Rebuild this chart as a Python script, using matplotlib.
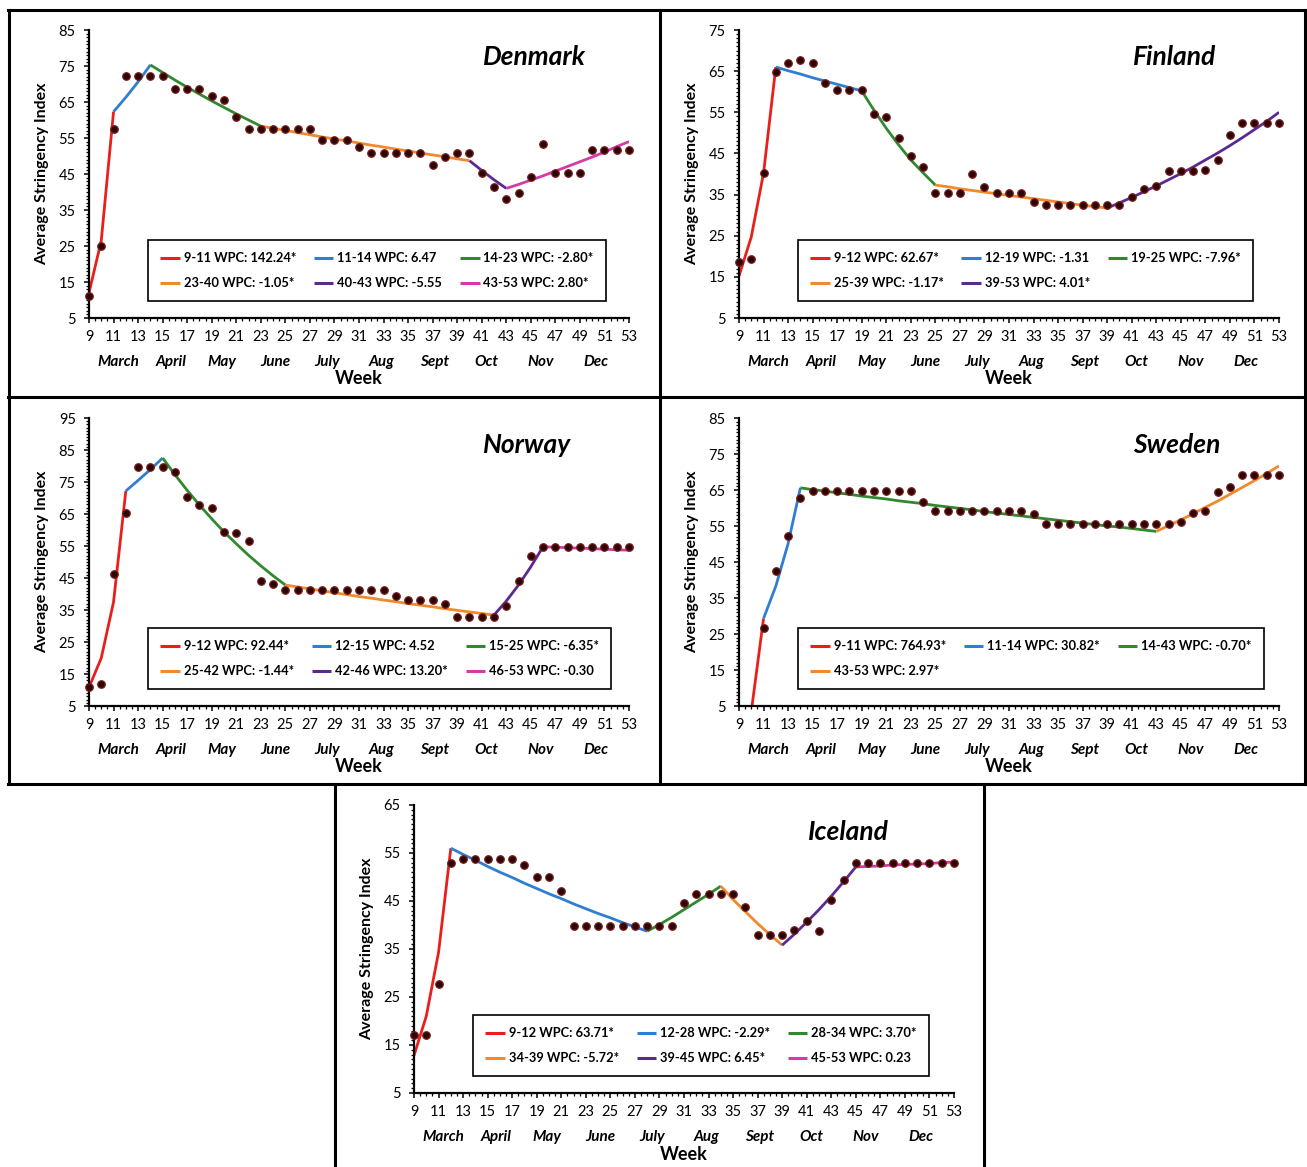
import matplotlib.pyplot as plt
import numpy as np
from matplotlib.lines import Line2D
from matplotlib.ticker import FixedLocator, MultipleLocator

W, H = 1307, 1167

weeks = list(range(9, 54))
month_names = ["March", "April", "May", "June", "July", "Aug", "Sept", "Oct", "Nov", "Dec"]
month_pos = [11.4, 15.7, 19.8, 24.2, 28.4, 32.8, 37.2, 41.4, 45.8, 50.3]

seg_colors = ["#e8201c", "#2f7fd0", "#2f8a2f", "#f08a2c", "#5b2a90", "#d63aa8"]

# Denmark
dk_obs = [11.0, 25.1, 57.4, 72.3, 72.3, 72.3, 72.3, 68.6, 68.6, 68.6, 66.7, 65.6, 60.8, 57.4, 57.4,
          57.4, 57.4, 57.4, 57.4, 54.5, 54.5, 54.5, 52.4, 50.8, 50.8, 50.8, 50.8, 50.8, 47.5, 49.7,
          50.8, 50.8, 45.4, 41.5, 38.0, 39.7, 44.1, 53.3, 45.2, 45.4, 45.4, 51.7, 51.7, 51.7, 51.7]
dk_fit = [12.0, 26.5, 62.3, 66.3, 70.6, 75.3, 73.2, 71.1, 69.1, 67.2, 65.3, 63.5, 61.7, 60.0, 58.3,
          57.7, 57.1, 56.5, 55.9, 55.3, 54.7, 54.2, 53.6, 53.0, 52.5, 51.9, 51.4, 50.8, 50.3, 49.8,
          49.2, 48.7, 46.0, 43.4, 41.0, 42.1, 43.3, 44.5, 45.8, 47.1, 48.4, 49.7, 51.1, 52.6, 54.0]
dk_joins = [9, 11, 14, 23, 40, 43, 53]
dk_wpc = ["142.24*", "6.47", "-2.80*", "-1.05*", "-5.55", "2.80*"]

# Finland
fi_obs = [18.6, 19.4, 40.2, 64.7, 66.9, 67.6, 66.9, 62.1, 60.4, 60.4, 60.4, 54.5, 53.8, 48.7, 44.4,
          41.8, 35.4, 35.4, 35.4, 40.0, 36.8, 35.4, 35.4, 35.4, 33.1, 32.4, 32.4, 32.4, 32.4, 32.4,
          32.4, 32.4, 34.3, 36.3, 37.2, 40.8, 40.8, 40.8, 41.0, 43.3, 49.5, 52.3, 52.3, 52.3, 52.3]
fi_fit = [15.2, 24.7, 40.2, 66.0, 65.1, 64.3, 63.4, 62.6, 61.8, 61.0, 60.2, 55.5, 51.1, 47.1, 43.4,
          40.3, 37.3, 36.9, 36.4, 36.0, 35.6, 35.2, 34.8, 34.4, 34.0, 33.6, 33.2, 32.8, 32.4, 32.1,
          31.7, 33.0, 34.3, 35.7, 37.1, 38.6, 40.1, 41.7, 43.4, 45.1, 46.9, 48.8, 50.8, 52.8, 55.0]
fi_joins = [9, 12, 19, 25, 39, 53]
fi_wpc = ["62.67*", "-1.31", "-7.96*", "-1.17*", "4.01*"]

# Norway
no_obs = [11.0, 12.0, 46.3, 65.4, 79.7, 79.7, 79.7, 78.0, 70.4, 67.8, 66.8, 59.5, 59.0, 56.6, 44.1,
          43.1, 41.1, 41.1, 41.1, 41.1, 41.1, 41.1, 41.1, 41.1, 41.1, 39.3, 38.2, 38.2, 38.2, 37.0,
          32.7, 32.7, 32.7, 32.7, 36.1, 44.1, 52.0, 54.6, 54.6, 54.6, 54.6, 54.6, 54.6, 54.6, 54.6]
no_fit = [10.8, 20.0, 37.5, 72.2, 75.5, 78.9, 82.5, 77.3, 72.4, 67.8, 63.5, 59.4, 55.7, 52.1, 48.8,
          45.7, 42.8, 42.2, 41.6, 41.0, 40.4, 39.8, 39.2, 38.7, 38.1, 37.6, 37.0, 36.5, 36.0, 35.4,
          34.9, 34.4, 33.9, 33.4, 37.8, 42.8, 48.5, 54.8, 54.6, 54.5, 54.3, 54.2, 54.0, 53.8, 53.7]
no_joins = [9, 12, 15, 25, 42, 46, 53]
no_wpc = ["92.44*", "4.52", "-6.35*", "-1.44*", "13.20*", "-0.30"]

# Sweden (weeks 9-10 fall below the axis)
se_obs = [np.nan, np.nan, 26.7, 42.4, 52.3, 62.7, 64.7, 64.7, 64.7, 64.7, 64.7, 64.7, 64.7, 64.7, 64.7,
          61.8, 59.3, 59.3, 59.3, 59.3, 59.3, 59.3, 59.3, 59.3, 58.3, 55.5, 55.5, 55.5, 55.5, 55.5,
          55.5, 55.5, 55.5, 55.5, 55.5, 55.5, 56.0, 58.5, 59.3, 64.5, 65.9, 69.3, 69.3, 69.3, 69.3]
se_fit = [0.4, 3.4, 29.3, 38.3, 50.1, 65.6, 65.1, 64.7, 64.2, 63.8, 63.3, 62.9, 62.5, 62.0, 61.6,
          61.2, 60.7, 60.3, 59.9, 59.5, 59.0, 58.6, 58.2, 57.8, 57.4, 57.0, 56.6, 56.2, 55.8, 55.4,
          55.0, 54.7, 54.3, 53.9, 53.5, 55.1, 56.7, 58.4, 60.2, 61.9, 63.8, 65.7, 67.6, 69.6, 71.7]
se_joins = [9, 11, 14, 43, 53]
se_wpc = ["764.93*", "30.82*", "-0.70*", "2.97*"]

# Iceland
is_obs = [17.0, 17.0, 27.7, 52.9, 53.7, 53.7, 53.7, 53.7, 53.7, 52.6, 50.1, 50.1, 47.0, 39.8, 39.8,
          39.8, 39.8, 39.8, 39.8, 39.8, 39.8, 39.8, 44.6, 46.4, 46.4, 46.4, 46.4, 43.8, 37.9, 37.9,
          37.9, 38.9, 40.8, 38.8, 45.3, 49.4, 52.9, 52.9, 52.9, 52.9, 52.9, 52.9, 52.9, 52.9, 52.9]
is_fit = [12.8, 21.0, 34.3, 56.0, 54.7, 53.5, 52.2, 51.0, 49.9, 48.7, 47.6, 46.5, 45.5, 44.4, 43.4,
          42.4, 41.5, 40.5, 39.6, 38.7, 40.1, 41.6, 43.2, 44.8, 46.4, 48.1, 45.3, 42.8, 40.3, 38.0,
          35.8, 38.1, 40.6, 43.2, 46.0, 49.0, 52.1, 52.2, 52.3, 52.5, 52.6, 52.7, 52.8, 53.0, 53.1]
is_joins = [9, 12, 28, 34, 39, 45, 53]
is_wpc = ["63.71*", "-2.29*", "3.70*", "-5.72*", "6.45*", "0.23"]

plt.rcParams['font.family'] = ['Lato', 'DejaVu Sans']

fig = plt.figure(figsize=(W / 100, H / 100), dpi=100)


def fx(x):
    return x / W


def fy(y):
    return 1 - y / H


def draw_panel(ox, oy, name, obs, fit, joins, wpc, ymax):
    # axes rectangle in pixels relative to the panel corner
    ax = fig.add_axes([fx(ox + 79), fy(oy + 308), 540 / W, 288 / H])
    for i in range(len(joins) - 1):
        a, b = joins[i], joins[i + 1]
        ax.plot(weeks[a - 9:b - 8], fit[a - 9:b - 8], color=seg_colors[i], lw=2.0,
                solid_capstyle='butt', label=f"{a}-{b} WPC: {wpc[i]}", zorder=2)
    ax.plot(weeks, obs, ls='none', marker='o', ms=5.4, mfc='#2a0606', mec='#7a1a1a',
            mew=0.9, zorder=3, clip_on=False)
    ax.set_xlim(9, 53)
    ax.set_ylim(5, ymax)
    ax.spines['top'].set_visible(False)
    ax.spines['right'].set_visible(False)
    for s in ('left', 'bottom'):
        ax.spines[s].set_linewidth(1.6)
    ax.xaxis.set_major_locator(FixedLocator(range(9, 54, 2)))
    ax.xaxis.set_minor_locator(MultipleLocator(0.5))
    ax.yaxis.set_major_locator(FixedLocator(range(5, ymax + 1, 10)))
    ax.yaxis.set_minor_locator(MultipleLocator(1))
    ax.tick_params(which='major', length=3.5, width=1.1, labelsize=10.5, pad=5)
    ax.tick_params(which='minor', length=2.5, width=0.9)
    ax.tick_params(axis='y', pad=6)
    for m, p in zip(month_names, month_pos):
        ax.text(p, -44 / 288, m, transform=ax.get_xaxis_transform(), ha='center', va='center',
                fontsize=11, fontweight='bold', fontstyle='italic')
    ax.text(0.5, -61 / 288, "Week", transform=ax.transAxes, ha='center', va='center',
            fontsize=13, fontweight='bold')
    ax.text(-47 / 540, 0.5, "Average Stringency Index", transform=ax.transAxes, rotation=90,
            ha='center', va='center', fontsize=11.5, fontweight='bold')
    fig.text(fx(ox + 473), fy(oy + 47), name, ha='left', va='center', fontsize=19,
             fontweight='bold', fontstyle='italic')

    handles, labels = ax.get_legend_handles_labels()
    order = [k for c in range(3) for k in (c, c + 3) if k < len(handles)]
    leg = ax.legend([handles[k] for k in order], [labels[k] for k in order], ncol=3,
                    loc='upper left', bbox_to_anchor=(fx(ox + 138), fy(oy + 230)),
                    bbox_transform=fig.transFigure, borderaxespad=0, frameon=True,
                    fancybox=False, edgecolor='black', framealpha=1,
                    prop={'size': 9.3, 'weight': 'bold'}, handlelength=1.5, handletextpad=0.3,
                    columnspacing=1.4, labelspacing=1.0, borderpad=0.95)
    leg.get_frame().set_linewidth(1.2)
    for ln in leg.get_lines():
        ln.set_linewidth(2.2)
    return ax


draw_panel(10, 10, "Denmark", dk_obs, dk_fit, dk_joins, dk_wpc, 85)
draw_panel(660, 10, "Finland", fi_obs, fi_fit, fi_joins, fi_wpc, 75)
draw_panel(10, 398, "Norway", no_obs, no_fit, no_joins, no_wpc, 95)
draw_panel(660, 398, "Sweden", se_obs, se_fit, se_joins, se_wpc, 85)
draw_panel(335, 785, "Iceland", is_obs, is_fit, is_joins, is_wpc, 65)

# panel frames
frame = [((8, 10), (1306, 10)), ((8, 397), (1306, 397)), ((8, 784), (1306, 784)),
         ((9, 10), (9, 784)), ((660, 10), (660, 784)), ((1305, 10), (1305, 784)),
         ((335, 784), (335, 1167)), ((984, 784), (984, 1167))]
for (x0, y0), (x1, y1) in frame:
    fig.add_artist(Line2D([fx(x0), fx(x1)], [fy(y0), fy(y1)], color='black', lw=2.2))

plt.savefig('out.png', dpi=100)
